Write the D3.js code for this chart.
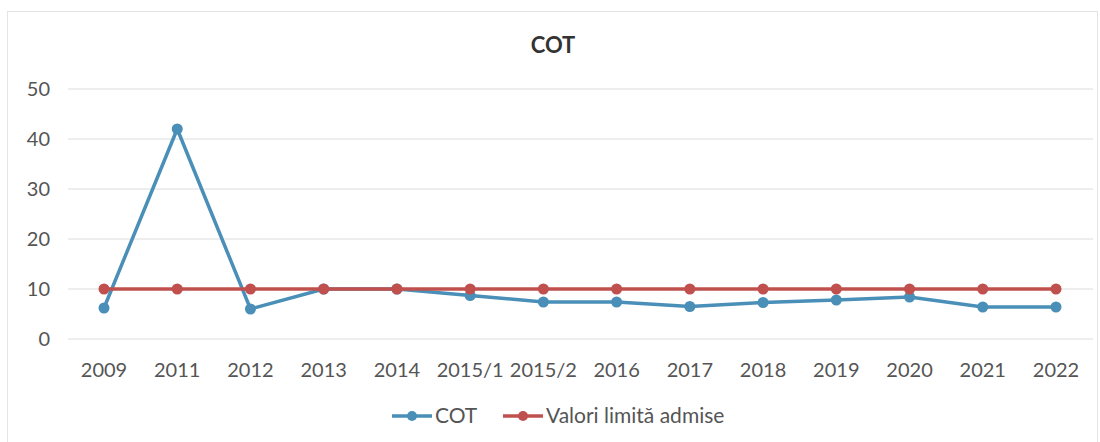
<!DOCTYPE html>
<html><head><meta charset="utf-8">
<script src="https://cdn.jsdelivr.net/npm/d3@7"></script>
<style>body{margin:0;background:#fff;}svg{display:block;font-family:Lato,"Open Sans",sans-serif;}</style>
</head><body><svg id="c" width="1100" height="442"></svg>
<script>
const categories = ["2009","2011","2012","2013","2014","2015/1","2015/2","2016","2017","2018","2019","2020","2021","2022"];
const cotValues = [6.2,42,6,10,10,8.7,7.4,7.4,6.5,7.3,7.8,8.4,6.4,6.4];
const limitValues = [10,10,10,10,10,10,10,10,10,10,10,10,10,10];
const yTicks = [0,10,20,30,40,50];
const seriesNames = ["COT","Valori limită admise"];
const colors = ["#4a8fb8","#c0504d"];

const svg = d3.select("#c");
svg.append("rect").attr("x",7.5).attr("y",11.5).attr("width",1090).attr("height",440).attr("fill","#fff").attr("stroke","#e4e4e4");

const x = d3.scalePoint().domain(categories).range([104,1056]);
const y = d3.scaleLinear().domain([0,50]).range([339,89]);

svg.append("g").selectAll("line").data(yTicks).join("line")
  .attr("x1",68).attr("x2",1093).attr("y1",d=>y(d)).attr("y2",d=>y(d))
  .attr("stroke","#dcdcdc").attr("stroke-width",1);

svg.append("g").selectAll("text").data(yTicks).join("text")
  .attr("x",50).attr("y",d=>y(d)).attr("dy","0.35em").attr("text-anchor","end")
  .attr("font-size",20).attr("fill","#555").text(d=>d);

svg.append("g").selectAll("text").data(categories).join("text")
  .attr("x",d=>x(d)).attr("y",377).attr("text-anchor","middle")
  .attr("font-size",20).attr("fill","#555").text(d=>d);

svg.append("text").attr("x",553).attr("y",53).attr("text-anchor","middle")
  .attr("font-size",22).attr("font-weight","bold").attr("fill","#333").text("COT");

const line = d3.line().x((d,i)=>x(categories[i])).y(d=>y(d));
[[cotValues,colors[0]],[limitValues,colors[1]]].forEach(([vals,c])=>{
  svg.append("path").datum(vals).attr("d",line).attr("fill","none").attr("stroke",c).attr("stroke-width",3.5);
  svg.append("g").selectAll("circle").data(vals).join("circle")
    .attr("cx",(d,i)=>x(categories[i])).attr("cy",d=>y(d)).attr("r",5.5).attr("fill",c);
});
const lg = svg.append("g");
const items = [{name:seriesNames[0],c:colors[0],x:392},{name:seriesNames[1],c:colors[1],x:503}];
items.forEach(it=>{
  lg.append("line").attr("x1",it.x).attr("x2",it.x+40).attr("y1",416).attr("y2",416).attr("stroke",it.c).attr("stroke-width",3.5);
  lg.append("circle").attr("cx",it.x+20).attr("cy",416).attr("r",5).attr("fill",it.c);
  lg.append("text").attr("x",it.x+43).attr("y",416).attr("dy","0.35em").attr("font-size",21).attr("fill","#555").text(it.name);
});
</script></body></html>
